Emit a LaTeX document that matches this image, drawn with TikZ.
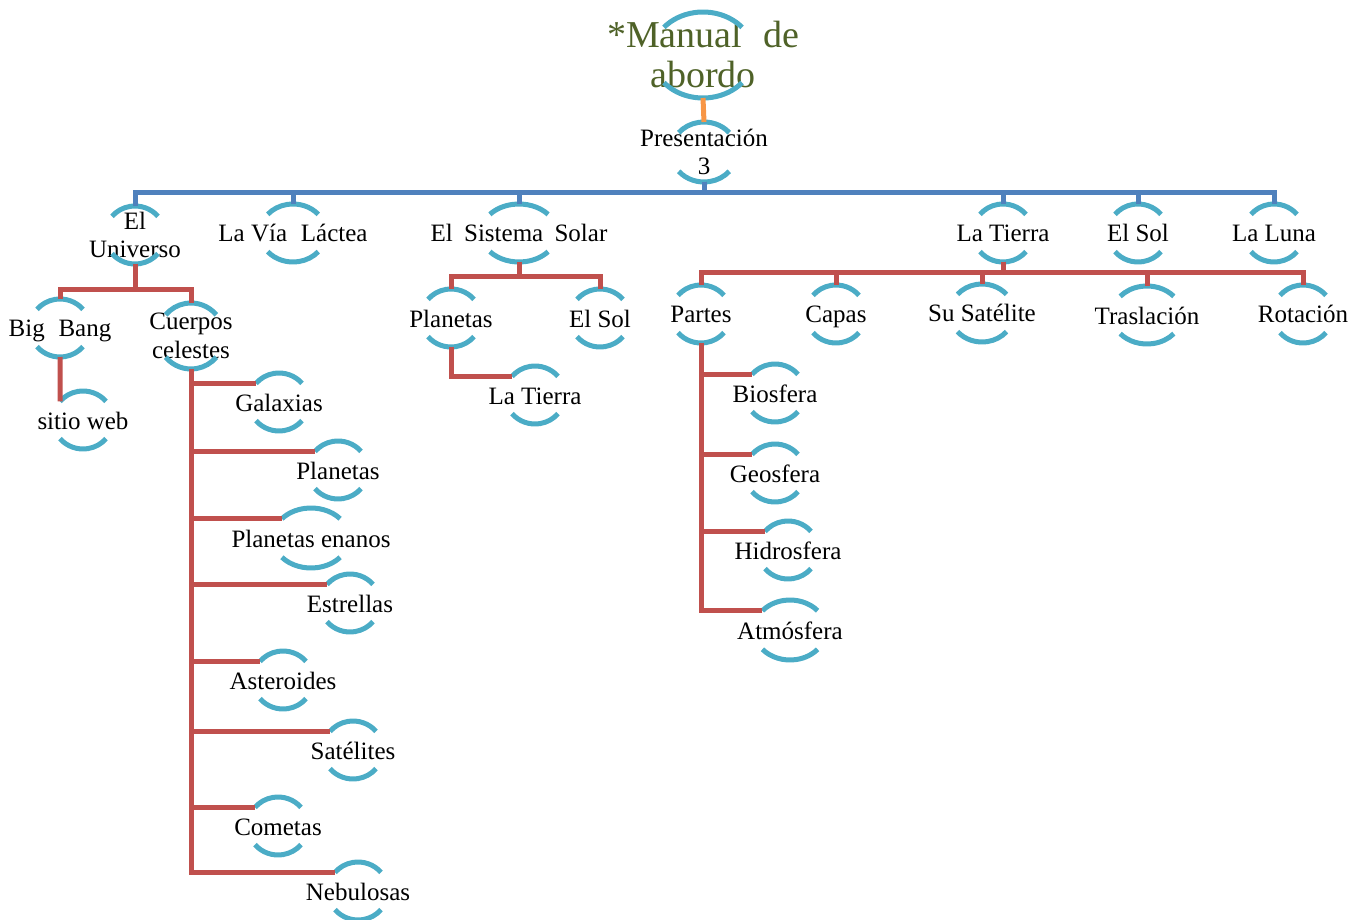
\documentclass[tikz,border=0pt]{standalone}
\usepackage{fontspec}
\setmainfont{Liberation Serif}
\usepackage{tikz}
\usetikzlibrary{calc}

\definecolor{ringblue}{HTML}{4BACC6}
\definecolor{linkred}{HTML}{C0504D}
\definecolor{linkblue}{HTML}{4F81BD}
\definecolor{linkorange}{HTML}{F79646}
\definecolor{titlegreen}{HTML}{4F6228}

\begin{document}
\begin{tikzpicture}[x=1pt, y=1pt,
    bubble/.style={inner sep=0pt, align=center, font=\fontsize{25}{28.5}\selectfont},
    topic/.style={bubble, text height=18pt, text depth=0pt},
    headline/.style={bubble, font=\fontsize{38}{40}\selectfont, text=titlegreen},
    ring/.style={ringblue, line width=5pt},
    redlink/.style={linkred, line width=5pt},
    bluelink/.style={linkblue, line width=5pt},
    orangelink/.style={linkorange, line width=5pt}
]
\useasboundingbox (0,0) rectangle (1369,-920);

% top
\node[headline] (title) at (703,-55) {*Manual\hspace{0.3em} de\\abordo};
\node[bubble] (pres) at (704,-152) {Presentación\\3};

% first level
\node[bubble] (univ) at (135,-235) {El\\Universo};
\node[topic] (via) at (293,-233) {La Vía\hspace{0.3em} Láctea};
\node[topic] (solar) at (519,-233) {El\hspace{0.2em} Sistema\hspace{0.2em} Solar};
\node[topic] (tierra) at (1003,-233) {La Tierra};
\node[topic] (sol) at (1138,-233) {El Sol};
\node[topic] (luna) at (1274,-233) {La Luna};

% el universo
\node[topic] (bigbang) at (60,-328) {Big\hspace{0.3em} Bang};
\node[bubble] (cuerpos) at (191,-336) {Cuerpos\\celestes};
\node[topic] (sitio) at (83,-420) {sitio web};
\node[topic] (galax) at (279,-402) {Galaxias};
\node[topic] (planetas) at (338,-470) {Planetas};
\node[topic] (enanos) at (311,-538) {Planetas enanos};
\node[topic] (estrellas) at (350,-603) {Estrellas};
\node[topic] (asteroides) at (283,-680) {Asteroides};
\node[topic] (satelites) at (353,-750) {Satélites};
\node[topic] (cometas) at (278,-826) {Cometas};
\node[topic] (nebulosas) at (358,-891) {Nebulosas};

% el sistema solar
\node[topic] (plan) at (451,-318) {Planetas};
\node[topic] (solb) at (600,-318) {El Sol};
\node[topic] (tierrab) at (535,-395) {La Tierra};

% la tierra
\node[topic] (partes) at (701,-314) {Partes};
\node[topic] (capas) at (836,-314) {Capas};
\node[topic] (satelite) at (982,-313) {Su Satélite};
\node[topic] (traslacion) at (1147,-315) {Traslación};
\node[topic] (rotacion) at (1303,-314) {Rotación};
\node[topic] (bio) at (775,-393) {Biosfera};
\node[topic] (geo) at (775,-473) {Geosfera};
\node[topic] (hidro) at (788,-550) {Hidrosfera};
\node[topic] (atmo) at (790,-630) {Atmósfera};

% arcs round every text
\foreach \n/\a/\b in {title/51/43, pres/33/30, univ/30/29, via/33/29, solar/38/29,
    tierra/30/29, sol/30/29, luna/30/29, bigbang/30/29, cuerpos/33/33, sitio/30/29,
    galax/30/29, planetas/30/29, enanos/38/30, estrellas/30/29, asteroides/30/29,
    satelites/30/29, cometas/30/29, nebulosas/30/29, plan/30/29, solb/30/29,
    tierrab/30/29, partes/30/29, capas/30/29, satelite/32/29, traslacion/35/29,
    rotacion/30/29, bio/30/29, geo/30/29, hidro/30/29, atmo/36/30} {
  \coordinate (\n-t) at ($(\n)+(0,\b)$);
  \coordinate (\n-b) at ($(\n)-(0,\b)$);
  \coordinate (\n-tl) at ($(\n)+(140:\a pt and \b pt)$);
  \draw[ring] ($(\n)+(40:\a pt and \b pt)$) arc[start angle=40, end angle=140, x radius=\a pt, y radius=\b pt];
  \draw[ring] ($(\n)+(220:\a pt and \b pt)$) arc[start angle=220, end angle=320, x radius=\a pt, y radius=\b pt];
}

% connectors
\draw[orangelink] (title-b) -- (pres-t);
\foreach \c in {univ,via,solar,tierra,sol,luna}
  \draw[bluelink] (pres-b) -- ++(0,-11) -| (\c-t);
\foreach \c in {bigbang,cuerpos}
  \draw[redlink] (univ-b) -- ++(0,-26) -| (\c-t);
\draw[redlink] (bigbang-b) -- (sitio-tl);
\foreach \c in {galax,planetas,enanos,estrellas,asteroides,satelites,cometas,nebulosas}
  \draw[redlink] (cuerpos-b) |- (\c-tl);
\foreach \c in {plan,solb}
  \draw[redlink] (solar-b) -- ++(0,-15) -| (\c-t);
\draw[redlink] (plan-b) |- (tierrab-tl);
\foreach \c in {partes,capas,satelite,traslacion,rotacion}
  \draw[redlink] (tierra-b) -- ++(0,-11) -| (\c-t);
\foreach \c in {bio,geo,hidro,atmo}
  \draw[redlink] (partes-b) |- (\c-tl);

\end{tikzpicture}
\end{document}
